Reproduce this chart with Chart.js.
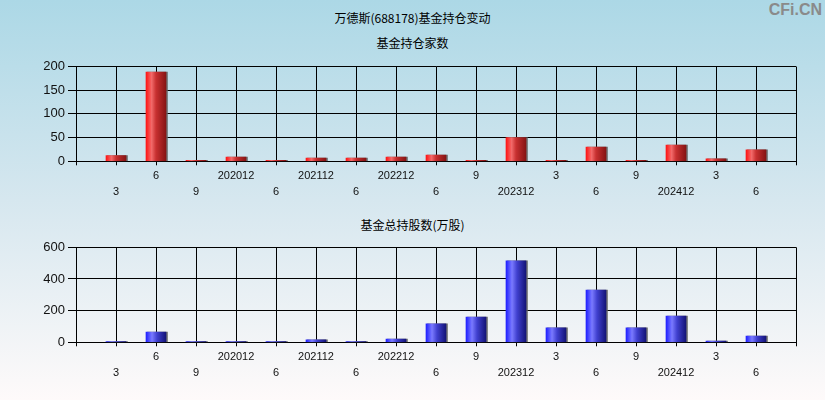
<!DOCTYPE html>
<html>
<head>
<meta charset="utf-8">
<script src="https://cdn.jsdelivr.net/npm/chart.js@4/dist/chart.umd.min.js"></script>
<style>
  html, body { margin: 0; padding: 0; }
  body {
    width: 825px; height: 400px; overflow: hidden; position: relative;
    background: linear-gradient(to bottom, #acd8e6 0%, #d6e7ef 50%, #fefafa 100%);
    font-family: "Noto Sans CJK SC", "Liberation Sans", sans-serif;
  }
  .t { position: absolute; left: 0; width: 825px; text-align: center; font-size: 12px; color: #000; line-height: 14px; }
  #wm { position: absolute; right: 3px; top: 1px; font: bold 16px "Liberation Sans", Arial, sans-serif; color: #8a8a8a; letter-spacing: 0px; }
  canvas { position: absolute; left: 0; }
</style>
</head>
<body>
<div class="t" style="top:11px">万德斯(688178)基金持仓变动</div>
<div class="t" style="top:36px">基金持仓家数</div>
<div class="t" style="top:218px">基金总持股数(万股)</div>
<div id="wm">CFi.CN</div>
<canvas id="c1" width="825" height="200" style="top:0px"></canvas>
<canvas id="c2" width="825" height="200" style="top:200px"></canvas>
<script>
// Reporting periods
const periods = ['2020-03','2020-06','2020-09','2020-12','2021-06','2021-12','2022-06','2022-12','2023-06','2023-09','2023-12','2024-03','2024-06','2024-09','2024-12','2025-03','2025-06'];
// Tick labels as shown on the axis
const tickLabels = ['3','6','9','202012','6','202112','6','202212','6','9','202312','3','6','9','202412','3','6'];
// Number of funds holding
const fundCount = [12, 188, 2, 9, 2, 7, 7, 9, 13, 2, 50, 2, 30, 2, 34, 5, 24];
// Total shares held by funds (10k shares)
const fundShares = [5, 65, 4, 4, 4, 15, 4, 21, 116, 160, 514, 91, 330, 91, 166, 8, 40];

// Build padded category labels (empty slot at both ends), alternating two rows
const catLabels = [''].concat(tickLabels.map((l, i) => (i % 2 === 0 ? ['', l] : [l, ''])), ['']);
function padData(arr) { return [null].concat(arr, [null]); }

function barGradient(stops, fallback) {
  return function (ctx) {
    const chart = ctx.chart;
    if (!chart.chartArea || !chart.scales.x) return fallback;
    const x = chart.scales.x.getPixelForValue(ctx.dataIndex);
    const g = chart.ctx.createLinearGradient(x - 10, 0, x + 10, 0);
    stops.forEach(s => g.addColorStop(s[0], s[1]));
    return g;
  };
}

const shadowPlugin = {
  id: 'barShadow',
  beforeDatasetsDraw(chart) {
    const c = chart.ctx;
    c.save();
    c.shadowColor = 'rgba(100,100,100,0.9)';
    c.shadowOffsetX = 1.5;
    c.shadowOffsetY = 0;
    c.shadowBlur = 0;
  },
  afterDatasetsDraw(chart) { chart.ctx.restore(); }
};

function makeChart(id, values, maxV, step, stops, fallback, padTop, xHeight) {
  return new Chart(document.getElementById(id), {
    type: 'bar',
    data: {
      labels: catLabels,
      datasets: [{
        data: padData(values),
        backgroundColor: barGradient(stops, fallback),
        borderWidth: 0,
        barThickness: 20
      }]
    },
    options: {
      responsive: false,
      animation: false,
      events: [],
      layout: { padding: { top: padTop, right: 29, left: 0, bottom: 0 } },
      plugins: { legend: { display: false }, title: { display: false }, tooltip: { enabled: false } },
      scales: {
        x: {
          offset: false,
          grid: { offset: false, color: '#000', lineWidth: 1, tickLength: 4, drawOnChartArea: true },
          border: { color: '#000', width: 1 },
          ticks: {
            autoSkip: false, maxRotation: 0, minRotation: 0, padding: 3,
            color: '#111',
            font: { family: '"Liberation Sans", Arial, sans-serif', size: 11, lineHeight: 1.45 }
          },
          afterFit(scale) { scale.height = xHeight; }
        },
        y: {
          min: 0, max: maxV,
          grid: { color: '#000', lineWidth: 1, tickLength: 8 },
          border: { color: '#000', width: 1 },
          ticks: {
            stepSize: step, padding: 3, color: '#111',
            font: { family: '"Liberation Sans", Arial, sans-serif', size: 13 }
          },
          afterFit(scale) { scale.width = 76; }
        }
      }
    },
    plugins: [shadowPlugin]
  });
}

const redStops = [[0, '#ff1414'], [0.28, '#f26a6a'], [0.5, '#c83030'], [1, '#861414']];
const blueStops = [[0, '#2020ff'], [0.3, '#7a7aff'], [0.55, '#4040d0'], [1, '#141478']];

makeChart('c1', fundCount, 200, 50, redStops, '#d02020', 66.5, 38.7);
makeChart('c2', fundShares, 600, 200, blueStops, '#3030d0', 47.3, 57.7);
</script>
</body>
</html>
